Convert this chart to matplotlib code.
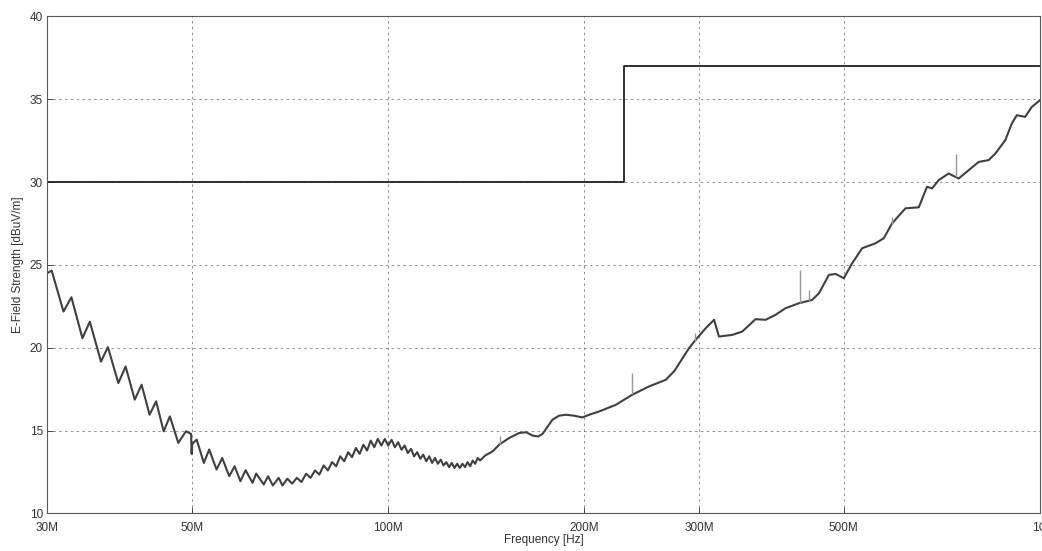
import numpy as np
import matplotlib
matplotlib.use("Agg")
import matplotlib.pyplot as plt
from matplotlib.ticker import FixedLocator, NullLocator

freq_mhz = [30.0, 30.5, 31.8, 32.7, 34.0, 34.9, 36.3, 37.2, 38.6, 39.6,
            40.9, 41.9, 43.1, 44.1, 45.3, 46.3, 47.7, 49.0, 49.9, 50.0,
            50.1, 50.9, 52.2, 53.2, 54.6, 55.7, 57.1, 58.2, 59.4, 60.5,
            62.0, 62.8, 64.5, 65.5, 66.6, 68.0, 68.9, 70.1, 71.3, 72.5,
            73.7, 74.9, 76.1, 77.3, 78.5, 79.7, 80.9, 82.1, 83.3, 84.5,
            85.7, 86.9, 88.1, 89.3, 90.5, 91.7, 92.9, 94.1, 95.3, 96.5,
            97.7, 98.9, 100.1, 101.3, 102.5, 103.7, 104.9, 106.1, 107.3, 108.5,
            109.7, 110.9, 112.1, 113.3, 114.5, 115.7, 116.9, 118.1, 119.3, 120.5,
            121.7, 122.9, 124.1, 125.3, 126.5, 127.7, 128.9, 130.1, 131.3, 132.5,
            133.7, 134.9, 136.1, 137.3, 138.5, 141.0, 144.8, 148.2, 153.5, 159.0,
            163.0, 166.7, 170.0, 172.6, 178.8, 183.0, 187.5, 193.0, 198.8, 203.6,
            210.9, 223.7, 237.1, 251.5, 266.8, 275.0, 289.6, 296.5, 307.1, 316.4,
            321.9, 337.4, 349.5, 366.3, 379.5, 393.1, 407.2, 426.9, 447.4, 458.2,
            474.6, 485.9, 500.3, 515.2, 533.8, 559.5, 576.0, 593.2, 622.0, 651.9,
            671.2, 683.2, 699.4, 724.4, 750.5, 777.5, 805.5, 834.4, 854.5, 884.8,
            905.6, 921.6, 949.2, 971.6, 1000.0]
level_db = [24.5, 24.66, 22.19, 23.05, 20.58, 21.58, 19.17, 20.04, 17.87, 18.87,
            16.87, 17.77, 15.96, 16.77, 14.96, 15.86, 14.26, 14.96, 14.8, 13.6,
            14.2, 14.46, 13.05, 13.86, 12.65, 13.35, 12.25, 12.85, 11.95, 12.61,
            11.85, 12.41, 11.75, 12.25, 11.69, 12.15, 11.69, 12.1, 11.8, 12.15,
            11.9, 12.4, 12.15, 12.6, 12.35, 12.9, 12.6, 13.1, 12.85, 13.45,
            13.15, 13.7, 13.4, 13.95, 13.6, 14.15, 13.8, 14.4, 14.0, 14.5,
            14.1, 14.5, 14.1, 14.45, 14.0, 14.3, 13.85, 14.1, 13.65, 13.9,
            13.45, 13.7, 13.3, 13.55, 13.15, 13.45, 13.05, 13.35, 13.0, 13.25,
            12.9, 13.1, 12.8, 13.05, 12.75, 13.0, 12.75, 13.0, 12.8, 13.1,
            12.85, 13.2, 13.0, 13.35, 13.2, 13.5, 13.75, 14.16, 14.56, 14.86,
            14.9, 14.7, 14.65, 14.8, 15.66, 15.9, 15.96, 15.9, 15.8, 15.96,
            16.16, 16.56, 17.17, 17.67, 18.07, 18.6, 19.98, 20.48, 21.18, 21.69,
            20.68, 20.78, 20.98, 21.73, 21.69, 21.99, 22.39, 22.69, 22.89, 23.29,
            24.40, 24.46, 24.20, 25.10, 26.01, 26.31, 26.61, 27.51, 28.42, 28.48,
            29.72, 29.62, 30.12, 30.52, 30.22, 30.72, 31.22, 31.33, 31.73, 32.53,
            33.54, 34.04, 33.94, 34.54, 34.94]

# single-sample spikes on the trace
spike_mhz = [148.5, 237.1, 296.0, 429.2, 443.0, 592.5, 744.0]
spike_lo = [14.2, 17.2, 20.4, 22.7, 22.8, 27.5, 30.3]
spike_hi = [14.7, 18.5, 20.9, 24.7, 23.5, 27.9, 31.7]

# limit line
limit_mhz = [30.0, 230.0, 230.0, 1000.0]
limit_db = [30.0, 30.0, 37.0, 37.0]

xtick_mhz = [30, 50, 100, 200, 300, 500, 1000]
xtick_labels = ["30M", "50M", "100M", "200M", "300M", "500M", "1G"]
ytick_vals = [10, 15, 20, 25, 30, 35, 40]

plt.rcParams['font.family'] = ['Liberation Sans', 'DejaVu Sans']

fig = plt.figure(figsize=(10.42, 5.51), dpi=100)
ax = fig.add_axes([0.0451, 0.0681, 0.9529, 0.902])

f = np.array(freq_mhz) * 1e6
ax.plot(f, level_db, color='0.25', lw=1.5, solid_joinstyle='round')
ax.vlines(np.array(spike_mhz) * 1e6, spike_lo, spike_hi, color='0.6', lw=1.0)
ax.plot(np.array(limit_mhz) * 1e6, limit_db, color='0.12', lw=1.3)

ax.set_xscale('log')
ax.set_xlim(30e6, 1000e6)
ax.set_ylim(10, 40)
ax.xaxis.set_major_locator(FixedLocator([v * 1e6 for v in xtick_mhz]))
ax.xaxis.set_minor_locator(NullLocator())
ax.set_xticklabels(xtick_labels)
ax.set_yticks(ytick_vals)

ax.grid(True, which='major', color='0.5', linestyle=(0, (3, 4)), lw=0.6)
ax.tick_params(direction='in', length=4, width=0.6, labelsize=8.5, colors='0.2')
ax.tick_params(axis='x', pad=6)
ax.tick_params(axis='y', pad=3)
for s in ax.spines.values():
    s.set_color('0.35')
    s.set_linewidth(0.8)

ax.set_xlabel("Frequency [Hz]", fontsize=8.5, labelpad=0, color='0.2')
ax.set_ylabel("E-Field Strength [dBuV/m]", fontsize=8.5, labelpad=4, color='0.2')

fig.savefig("out.png", dpi=100, facecolor='white')
